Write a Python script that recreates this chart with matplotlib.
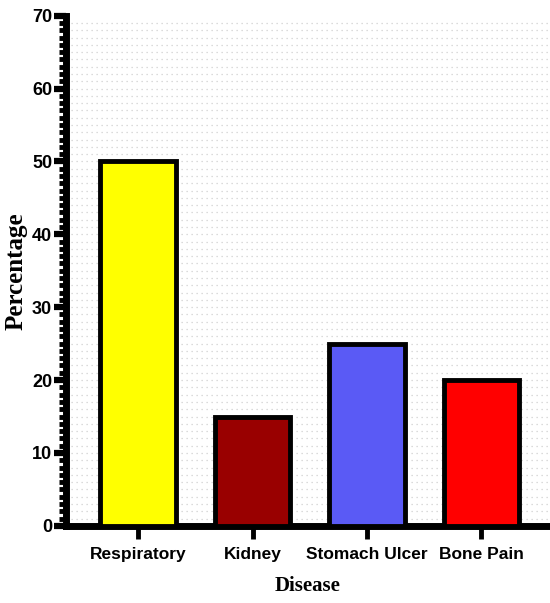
import numpy as np
from matplotlib import pyplot as plt
from matplotlib.ticker import MultipleLocator

# Chart data
diseases = ["Respiratory", "Kidney", "Stomach Ulcer", "Bone Pain"]
percentages = [50, 15, 25, 20]
bar_colors = ["#ffff00", "#990000", "#5a5af5", "#ff0000"]

fig = plt.figure(figsize=(5.5, 6.03), dpi=100)
ax = fig.add_axes([0.12, 0.128, 0.88, 0.846])

x = np.arange(len(diseases))
ax.bar(x, percentages, width=0.66, color=bar_colors, edgecolor="black",
       linewidth=3.5, zorder=3)

ax.set_xlim(-0.63, 3.6)
ax.set_ylim(0, 70)

# Dotted background grid
ax.yaxis.set_major_locator(MultipleLocator(10))
ax.yaxis.set_minor_locator(MultipleLocator(1))
for yv in np.arange(1, 70, 1.0):
    ax.axhline(yv, color="#d0d0d0", linestyle=(0, (1, 3)), linewidth=0.9, zorder=0)

ax.set_xticks(x)
ax.set_xticklabels(diseases)

for s in ["top", "right"]:
    ax.spines[s].set_visible(False)
for s in ["left", "bottom"]:
    ax.spines[s].set_linewidth(5)

ax.tick_params(axis="y", which="major", length=9, width=4.5, labelsize=13, pad=1)
ax.tick_params(axis="y", which="minor", length=5, width=3.5)
ax.tick_params(axis="x", which="major", length=9, width=3.5, labelsize=12.5, pad=6)

for lbl in ax.get_xticklabels() + ax.get_yticklabels():
    lbl.set_fontfamily("Liberation Sans")
    lbl.set_fontweight("bold")

ax.set_xlabel("Disease", fontfamily="Liberation Serif", fontweight="bold",
              fontsize=15, labelpad=10)
ax.set_ylabel("Percentage", fontfamily="Liberation Serif", fontweight="bold",
              fontsize=18, labelpad=3)

plt.savefig("out.png", dpi=100)
